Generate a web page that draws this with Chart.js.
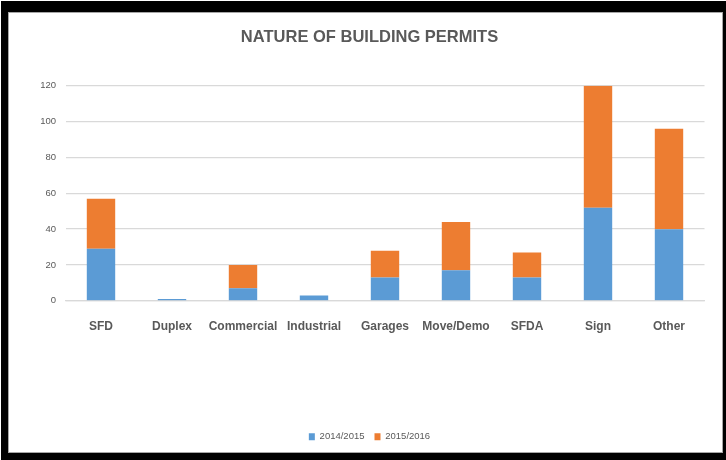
<!DOCTYPE html>
<html>
<head>
<meta charset="utf-8">
<script src="https://cdn.jsdelivr.net/npm/chart.js@4.4.1/dist/chart.umd.min.js"></script>
<style>
  html, body { margin: 0; padding: 0; background: #fff; }
  #frame { position: absolute; left: 1px; top: 1px; width: 725px; height: 459px; background: #000; }
  #panel { position: absolute; left: 8px; top: 12px; width: 715px; height: 441px;
           background: #fff; border: 1px solid #a6a6a6; box-sizing: border-box; }
  #wrap { position: absolute; left: 0; top: 0; width: 726px; height: 460px; }
</style>
</head>
<body>
<div id="frame"></div>
<div id="panel"></div>
<div id="wrap"><canvas id="chart"></canvas></div>
<script>
// Datos
const categories = ["SFD", "Duplex", "Commercial", "Industrial", "Garages", "Move/Demo", "SFDA", "Sign", "Other"];
const seriesNames = ["2014/2015", "2015/2016"];
const values1415 = [29, 1, 7, 3, 13, 17, 13, 52, 40];
const values1516 = [28, 0, 13, 0, 15, 27, 14, 68, 56];
const yTicks = { min: 0, max: 120, step: 20 };

const GREY = "#595959";
const FONT = '"Liberation Sans", Arial, sans-serif';
Chart.defaults.font.family = FONT;
Chart.defaults.color = GREY;

new Chart(document.getElementById("chart"), {
  type: "bar",
  data: {
    labels: categories,
    datasets: [
      { label: seriesNames[0], data: values1415, backgroundColor: "#5b9bd5" },
      { label: seriesNames[1], data: values1516, backgroundColor: "#ed7d31" },
    ],
  },
  options: {
    responsive: true,
    maintainAspectRatio: false,
    animation: false,
    devicePixelRatio: 1,
    barPercentage: 0.4,
    categoryPercentage: 1,
    layout: { padding: { left: 13, right: 0, top: 0, bottom: 8.5 } },
    plugins: {
      title: {
        display: true,
        text: "NATURE OF BUILDING PERMITS",
        color: GREY,
        font: { size: 16.5, weight: "bold" },
        padding: { top: 28, bottom: 38 },
      },
      legend: {
        position: "bottom",
        labels: { boxWidth: 6, boxHeight: 7, padding: 10, color: GREY, font: { size: 9.5 } },
      },
      tooltip: { enabled: false },
    },
    scales: {
      x: {
        stacked: true,
        grid: { display: false },
        border: { color: "#d9d9d9", width: 1.3 },
        ticks: { color: GREY, padding: 11, autoSkip: false, maxRotation: 0,
                 font: { size: 12, weight: "bold" } },
        afterFit: s => { s.height = 121.2; },
      },
      y: {
        stacked: true,
        min: yTicks.min,
        max: yTicks.max,
        grid: { color: "#d9d9d9", lineWidth: 1.3, drawTicks: false },
        border: { display: false },
        ticks: { stepSize: yTicks.step, padding: 9.5, color: GREY, font: { size: 9.5 } },
        afterFit: s => { s.width = 52.5; },
      },
      y2: {
        position: "right",
        grid: { display: false },
        border: { display: false },
        ticks: { display: false },
        afterFit: s => { s.width = 21.5; },
      },
    },
  },
});
</script>
</body>
</html>
